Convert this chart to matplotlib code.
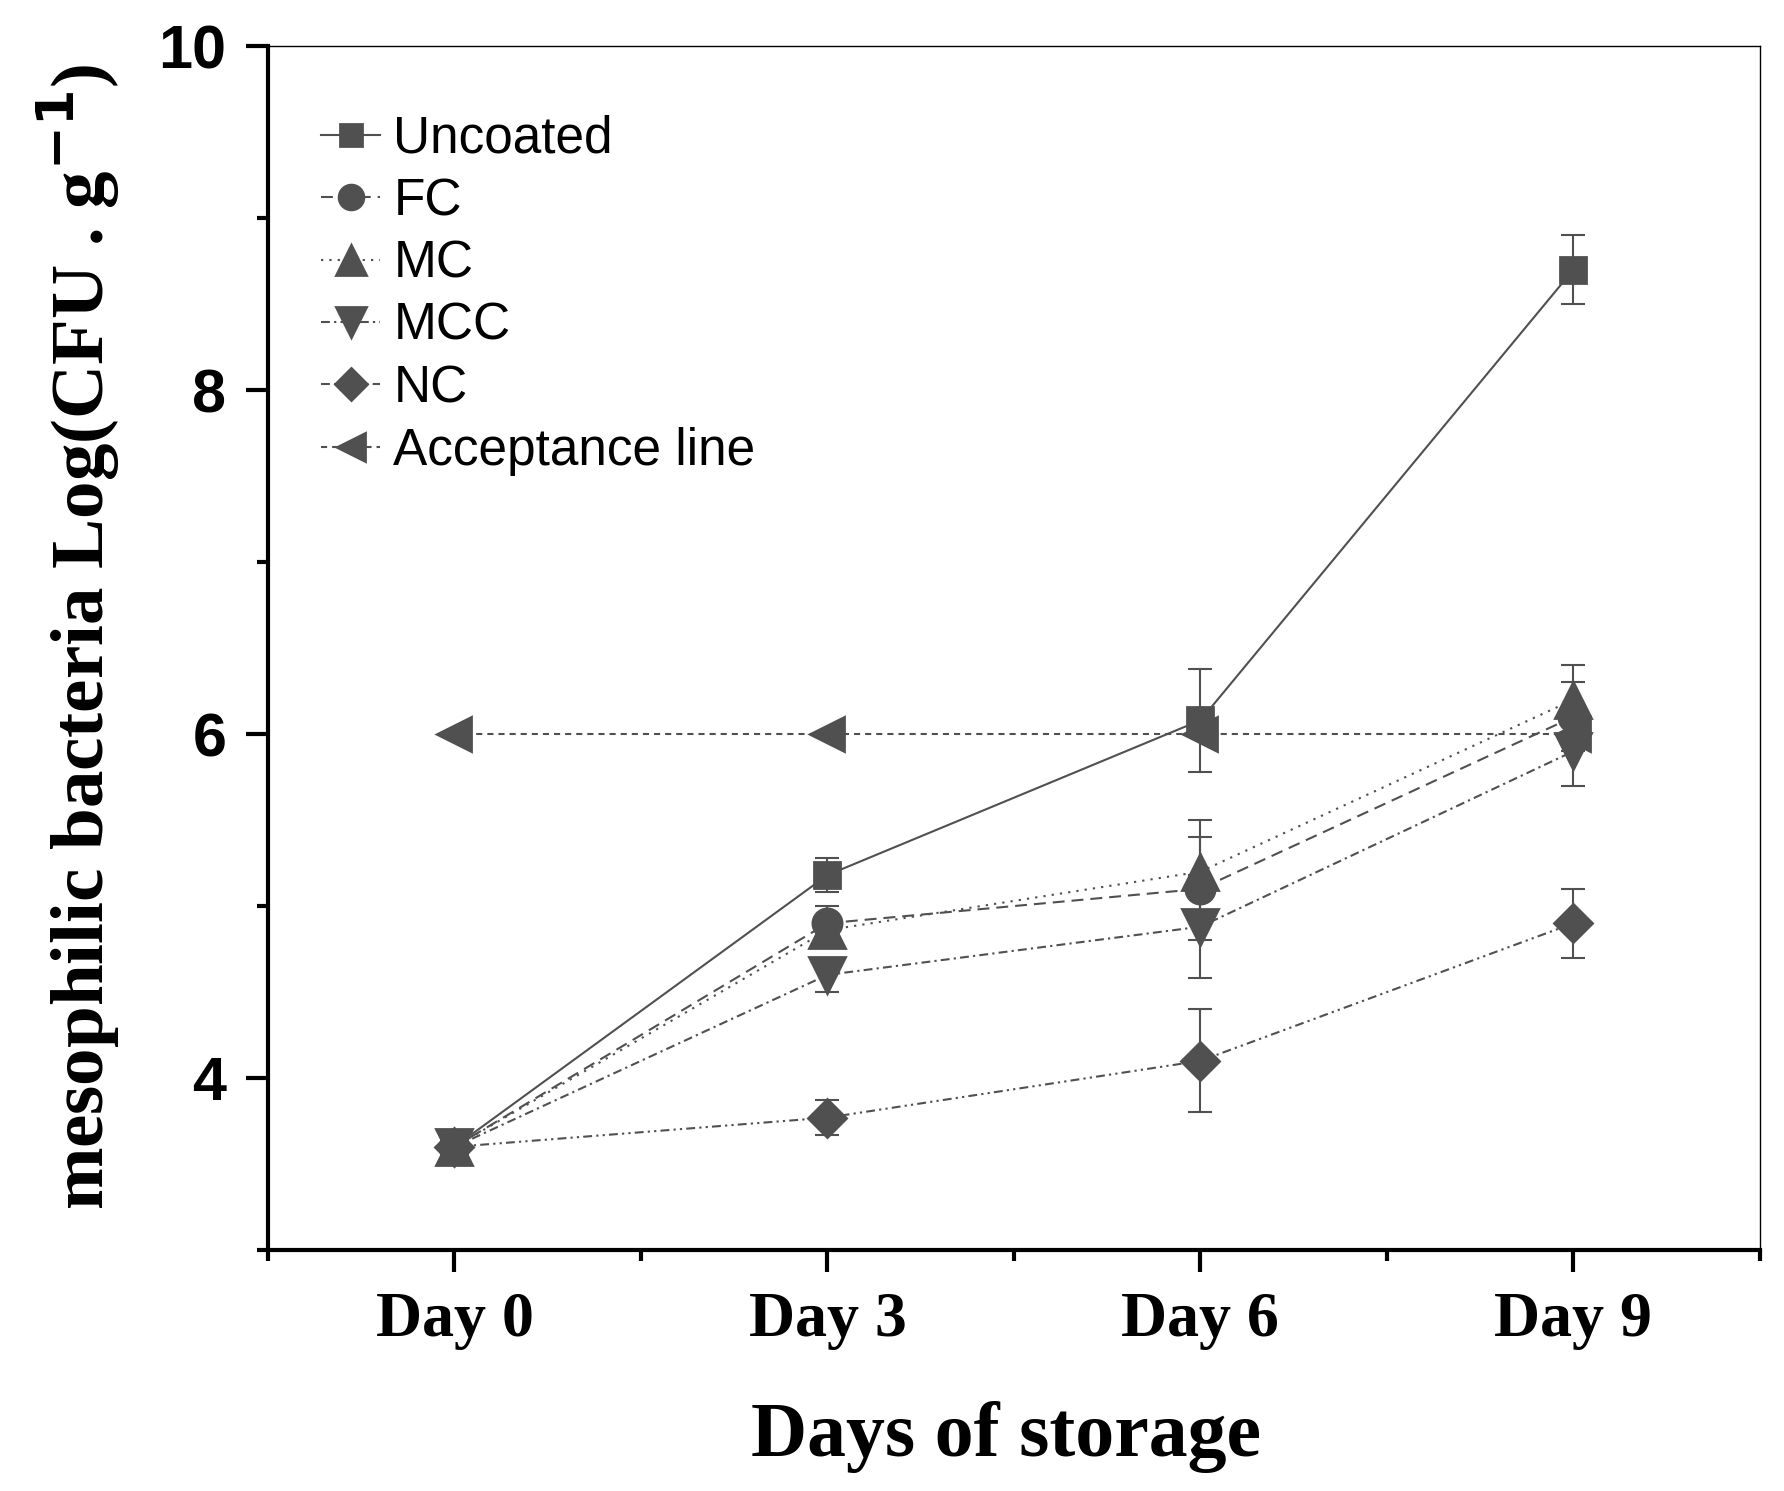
import matplotlib
matplotlib.use("Agg")
import matplotlib.pyplot as plt
from matplotlib.lines import Line2D
from matplotlib.ticker import MultipleLocator, FixedLocator

# data
days = ["Day 0", "Day 3", "Day 6", "Day 9"]
uncoated = [3.6, 5.18, 6.08, 8.7]
uncoated_err = [0.08, 0.1, 0.3, 0.2]
fc = [3.6, 4.9, 5.1, 6.1]
fc_err = [0.08, 0.1, 0.3, 0.2]
mc = [3.6, 4.86, 5.2, 6.2]
mc_err = [0.08, 0.08, 0.3, 0.2]
mcc = [3.6, 4.6, 4.88, 5.9]
mcc_err = [0.08, 0.1, 0.3, 0.2]
nc = [3.6, 3.77, 4.1, 4.9]
nc_err = [0.08, 0.1, 0.3, 0.2]
acceptance = [6, 6, 6, 6]

grey = "#505050"
plt.rcParams["lines.scale_dashes"] = False

fig = plt.figure(figsize=(8.92, 7.455), dpi=200)
ax = fig.add_axes([0.1502, 0.1616, 0.8363, 0.8075])

x = list(range(len(days)))

series = [
    ("Uncoated", uncoated, uncoated_err, "s", 9.5, "-"),
    ("FC", fc, fc_err, "o", 10.5, (0, (4.3, 2.5))),
    ("MC", mc, mc_err, "^", 13, (0, (0.8, 2.2))),
    ("MCC", mcc, mcc_err, "v", 13, (0, (3.2, 1.5, 0.8, 1.5))),
    ("NC", nc, nc_err, "D", 9.5, (0, (3.2, 1.5, 0.8, 1.5, 0.8, 1.5))),
]

handles = []
for name, vals, err, mk, ms, ls in series:
    ax.errorbar(x, vals, yerr=err, color=grey, marker=mk, markersize=ms,
                linestyle=ls, linewidth=0.75, elinewidth=0.75,
                capsize=4.2, capthick=0.75)
    handles.append(Line2D([], [], color=grey, marker=mk, markersize=ms * 0.85,
                          linestyle=ls, linewidth=0.75, label=name))

acc_ls = (0, (2.2, 1.8))
ax.plot(x, acceptance, color=grey, marker="<", markersize=12,
        linestyle=acc_ls, linewidth=0.75)
handles.append(Line2D([], [], color=grey, marker="<", markersize=12 * 0.85,
                      linestyle=acc_ls, linewidth=0.75, label="Acceptance line"))

ax.set_xlim(-0.5, 3.5)
ax.set_ylim(3, 10)
ax.set_xticks(x)
ax.set_xticklabels(days)
ax.xaxis.set_minor_locator(FixedLocator([-0.5, 0.5, 1.5, 2.5, 3.5]))
ax.yaxis.set_major_locator(MultipleLocator(2))
ax.yaxis.set_minor_locator(FixedLocator([3, 5, 7, 9]))

for side in ["left", "bottom"]:
    ax.spines[side].set_linewidth(1.5)
for side in ["top", "right"]:
    ax.spines[side].set_linewidth(0.5)

ax.tick_params(which="major", direction="out", length=8, width=1.5)
ax.tick_params(which="minor", direction="out", length=4, width=1.5)
ax.tick_params(axis="y", which="major", pad=7)
ax.tick_params(axis="x", which="major", pad=7)

for lbl in ax.get_yticklabels():
    lbl.set_fontfamily("Liberation Sans")
    lbl.set_fontweight("heavy")
    lbl.set_fontsize(22)
for lbl in ax.get_xticklabels():
    lbl.set_fontfamily("Liberation Serif")
    lbl.set_fontweight("bold")
    lbl.set_fontsize(23)

ax.set_xlabel("Days of storage", fontfamily="Liberation Serif",
              fontweight="bold", fontsize=28)
ax.set_ylabel("mesophilic bacteria Log(CFU . g$^{\\mathbf{-1}}$)",
              fontfamily="Liberation Serif", fontweight="bold", fontsize=27)
ax.xaxis.set_label_coords(0.495, -0.125)
ax.yaxis.set_label_coords(-0.098, 0.509)

ax.legend(handles=handles, loc="upper left", bbox_to_anchor=(0.022, 0.96),
          frameon=False, prop={"family": "Liberation Sans", "size": 18.5},
          handlelength=1.15, handletextpad=0.25, labelspacing=0.26,
          borderaxespad=0)

fig.savefig("out.png", dpi=200)
